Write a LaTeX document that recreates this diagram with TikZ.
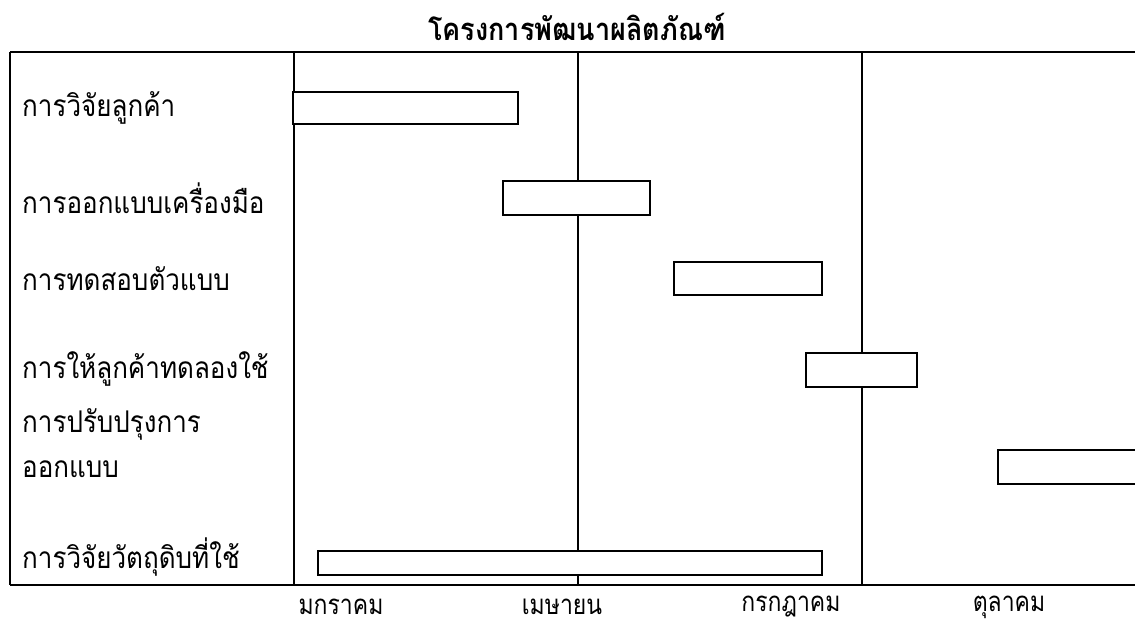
\documentclass[tikz,border=0pt]{standalone}
\usepackage{fontspec}
\newfontfamily\thai[Script=Thai]{Loma}
\newcommand\tallA[1]{\scalebox{1}[1.15]{#1}}
\begin{document}
\begin{tikzpicture}[x=1pt,y=-1pt,
  bar/.style={draw=black,line width=1.6pt,fill=white,inner sep=0pt,outer sep=0pt,anchor=north west},
  lab/.style={font=\thai\fontsize{26}{30}\selectfont,anchor=west,inner sep=0pt,align=left},
  month/.style={font=\thai\fontsize{23}{28}\selectfont,inner sep=0pt},
  frame/.style={line width=2pt,black}]
\useasboundingbox (0,0) rectangle (1135,630);
\clip (0,0) rectangle (1135,630);
\node[font=\thai\bfseries\fontsize{27}{32}\selectfont,inner sep=0pt] (title) at (577,27) {\tallA{โครงการพัฒนาผลิตภัณฑ์}};
% frame coordinates
\coordinate (tl) at (10,52);
\coordinate (bl) at (10,585);
\coordinate (tr) at (1137,52);
\coordinate (br) at (1137,585);
\coordinate (s1) at (294,52);
\coordinate (s2) at (294,585);
\coordinate (m1) at (578,52);
\coordinate (m2) at (578,585);
\coordinate (j1) at (862,52);
\coordinate (j2) at (862,585);
\draw[frame,line width=2.6pt] (tl) -- (tr);
\draw[frame] (bl) -- (br);
\draw[frame] (tl) -- (bl);
\draw[frame] (s1) -- (s2);
\draw[frame] (m1) -- (m2);
\draw[frame] (j1) -- (j2);
% bars
\node[bar,minimum width=225pt,minimum height=32pt] (b1) at (293,92) {};
\node[bar,minimum width=147pt,minimum height=34pt] (b2) at (503,181) {};
\node[bar,minimum width=148pt,minimum height=33pt] (b3) at (674,262) {};
\node[bar,minimum width=111pt,minimum height=34pt] (b4) at (806,353) {};
\node[bar,minimum width=160pt,minimum height=34pt] (b5) at (998,450) {};
\node[bar,minimum width=504pt,minimum height=24pt] (b6) at (318,551) {};
% labels
\node[lab] (l1) at (22,108) {\tallA{การวิจัยลูกค้า}};
\node[lab] (l2) at (22,198) {\tallA{การออกแบบเครื่องมือ}};
\node[lab] (l3) at (22,279) {\tallA{การทดสอบตัวแบบ}};
\node[lab] (l4) at (22,369) {\tallA{การให้ลูกค้าทดลองใช้}};
\node[lab] (l5a) at (22,424) {\tallA{การปรับปรุงการ}};
\node[lab] (l5b) at (22,469) {\tallA{ออกแบบ}};
\node[lab] (l6) at (22,557) {\tallA{การวิจัยวัตถุดิบที่ใช้}};
% months
\node[month] (mo1) at (341,607) {\scalebox{1}[1.2]{มกราคม}};
\node[month] (mo2) at (562,607) {\scalebox{1}[1.2]{เมษายน}};
\node[month] (mo3) at (791,607) {\scalebox{1}[1.2]{กรกฎาคม}};
\node[month] (mo4) at (1009,607) {\scalebox{1}[1.2]{ตุลาคม}};
\end{tikzpicture}
\end{document}
